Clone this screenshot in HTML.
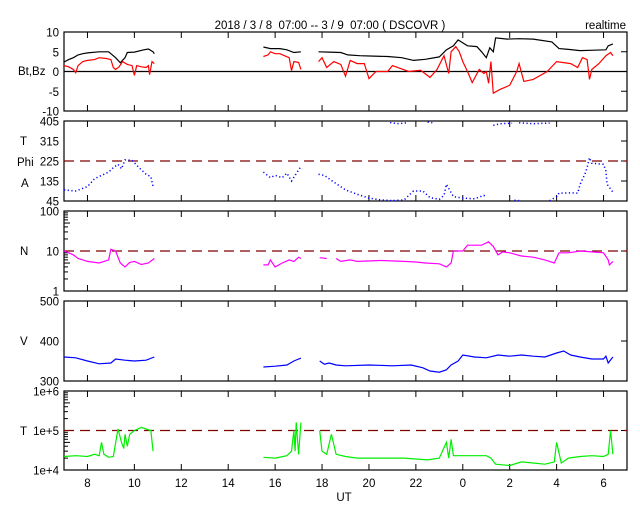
<!DOCTYPE html>
<html><head><meta charset="utf-8"><style>
body{margin:0;background:#fff}
svg{display:block;font-family:"Liberation Sans",sans-serif;font-size:11.5px}
</style></head><body>
<svg id="c" width="640" height="512" xmlns="http://www.w3.org/2000/svg">
<text x="330" y="29" text-anchor="middle" xml:space="preserve">2018 / 3 / 8  07:00 -- 3 / 9  07:00 ( DSCOVR )</text>
<text x="626" y="29" text-anchor="end">realtime</text>
<text x="344" y="501" text-anchor="middle">UT</text>
</svg>
<script>
const xTicks=[8,10,12,14,16,18,20,22,24,26,28,30];
const xTickLabels=["8","10","12","14","16","18","20","22","0","2","4","6"];
const btSegs=[
[[7.0,2.4],[7.2,3],[7.4,3.5],[7.6,4.2],[7.8,4.5],[8.0,4.7],[8.5,5],[8.9,5],[9.0,4.5],[9.2,3.5],[9.4,2.2],[9.6,3.5],[9.7,4.8],[10.0,4.9],[10.4,5.5],[10.6,5.7],[10.8,5.0],[10.85,4.5]],
[[15.5,6.2],[15.8,5.8],[16.2,5.8],[16.5,5.5],[16.8,4.8],[17.1,5]],
[[17.85,5.0],[18.3,4.9],[18.8,4.8],[19.1,4.2],[19.6,4.0],[20.2,3.9],[20.8,3.8],[21.4,3.5],[21.9,2.8],[22.4,3.1],[23.0,3.7],[23.3,5.5],[23.6,6.5],[23.8,8],[24.2,6.5],[24.6,6.3],[24.8,5],[25.0,3.5],[25.15,6],[25.3,5],[25.4,8.5],[25.9,8.2],[26.4,8.3],[27.0,8.2],[27.8,7.5],[28.1,5.8],[28.5,5.6],[29.0,5.3],[29.6,5.4],[30.1,5.5],[30.2,6.5],[30.4,7]]];
const bzSegs=[
[[7.0,1.5],[7.2,1.2],[7.4,0.5],[7.5,-0.3],[7.6,1.5],[7.8,2.5],[8.0,2.8],[8.3,3],[8.5,3.5],[8.8,3.3],[9.0,3.0],[9.1,1.0],[9.2,0.5],[9.35,1.2],[9.5,2.5],[9.7,1.8],[9.9,1.5],[10.0,-1.0],[10.1,1.5],[10.3,1.2],[10.5,1.0],[10.6,1.5],[10.65,-0.8],[10.75,2.5],[10.85,2]],
[[15.5,3.8],[15.7,4.2],[15.8,5],[16.0,4.5],[16.2,4.5],[16.4,4],[16.6,3.5],[16.7,0.2],[16.8,2.5],[17.0,2.3],[17.1,0.5]],
[[17.85,2.5],[18.0,3.5],[18.2,1],[18.5,2.5],[18.8,1.8],[19.0,-1.2],[19.2,2.8],[19.5,2],[19.8,2],[20.0,-1.8],[20.3,0],[20.8,0],[21.0,1.5],[21.7,0],[22.2,0.3],[22.6,-1.5],[22.9,0.5],[23.2,4],[23.4,-0.5],[23.5,5],[23.7,6.3],[23.85,5],[24.0,2.5],[24.2,0],[24.4,-2.8],[24.7,0.5],[24.9,-0.5],[25.0,0],[25.1,-3],[25.2,2.5],[25.3,-5.5],[25.6,-4.5],[26.0,-3.5],[26.3,0],[26.4,2],[26.6,-2.5],[27.0,-2],[27.6,0],[28.0,2.5],[28.6,2],[28.9,1],[29.1,3.5],[29.3,3],[29.4,-2],[29.5,0.5],[29.8,2],[30.1,4],[30.3,4.8],[30.4,4]]];
const phiSegs=[
[[7.0,95],[7.5,90],[8.0,110],[8.3,145],[8.6,160],[8.9,175],[9.1,195],[9.3,210],[9.45,190],[9.6,230],[9.9,228],[10.2,195],[10.5,165],[10.7,155],[10.8,110]],
[[15.5,175],[15.8,150],[16.0,160],[16.3,150],[16.5,170],[16.7,135],[17.0,185],[17.1,200]],
[[17.85,165],[18.1,160],[18.5,130],[19.0,95],[19.5,75],[20.0,58],[20.5,50],[21.0,47],[21.5,50],[21.9,90],[22.3,90],[22.6,60],[23.0,52],[23.2,70],[23.3,120],[23.6,65],[24.0,58],[24.5,55],[24.9,70],[25.0,60]],
[[20.9,398],[21.2,393],[21.6,397]],[[22.5,400],[22.7,397]],
[[25.3,385],[25.6,393],[26.1,395]],[[26.4,397],[27.0,393],[27.7,396]],
[[26.2,48],[26.4,47]],[[27.7,46],[28.0,65],[28.1,80],[28.6,82],[28.9,80],[29.0,120],[29.2,165],[29.3,195],[29.4,240],[29.5,215],[30.0,210],[30.1,180],[30.15,120],[30.4,85]]];
const nSegs=[
[[7.0,10],[7.2,9],[7.4,8],[7.6,6.5],[8.0,5.5],[8.5,5],[8.9,6],[9.0,11],[9.2,10],[9.4,5],[9.6,4],[9.8,5.2],[10.0,5.5],[10.3,4.6],[10.6,5],[10.85,6.5]],
[[15.5,4.5],[15.7,4.5],[15.8,6],[16.0,4],[16.3,5],[16.6,6],[16.8,5.5],[17.0,7],[17.1,6.5]],
[[17.9,6.8],[18.2,6.5]],
[[18.6,6.5],[18.8,5.5],[19.2,6],[19.5,5.5],[20.5,5.8],[21.5,5.5],[22.0,5.3],[22.4,5],[23.0,4.8],[23.3,4],[23.5,5],[23.6,10],[24.0,10],[24.2,14],[24.8,14],[25.1,17],[25.3,13],[25.5,8],[25.7,9.5],[26.0,9],[26.5,7.5],[27.0,7],[27.5,6],[27.9,5],[28.1,9],[28.5,9],[29.0,10],[29.5,9.5],[30.0,9],[30.2,6],[30.25,4.5],[30.4,5.5]]];
const vSegs=[
[[7.0,360],[7.5,358],[8.0,350],[8.5,343],[9.0,345],[9.2,355],[9.6,352],[10.0,350],[10.5,352],[10.85,360]],
[[15.5,335],[16.0,337],[16.5,340],[16.8,350],[17.0,355],[17.1,357]],
[[17.9,350],[18.1,342],[18.3,345],[18.6,340],[19.0,338],[20.0,340],[21.0,338],[21.8,340],[22.3,333],[22.6,325],[23.0,322],[23.3,328],[23.5,340],[23.8,350],[24.0,365],[24.5,360],[25.0,358],[25.5,365],[26.0,362],[26.5,365],[27.0,362],[27.5,360],[28.0,370],[28.3,375],[28.6,365],[29.0,360],[29.5,355],[30.0,355],[30.1,362],[30.2,345],[30.4,360]]];
const tSegs=[
[[7.0,2.2e4],[7.5,2.3e4],[8.0,2.2e4],[8.3,2.5e4],[8.5,2.3e4],[8.6,5e4],[8.7,2.5e4],[8.9,2.1e4],[9.1,2.2e4],[9.3,1.1e5],[9.45,5e4],[9.55,3.5e4],[9.6,8e4],[9.7,4e4],[9.8,8e4],[10.0,1.0e5],[10.3,1.2e5],[10.7,1.0e5],[10.8,3e4]],
[[15.5,2.1e4],[16.0,2.0e4],[16.5,2.3e4],[16.7,3e4],[16.8,1e5],[16.85,3e4],[16.9,1.6e5],[17.0,2.5e4],[17.1,1.6e5]],
[[17.9,1e5],[18.0,3e4],[18.2,2.5e4],[18.4,8e4],[18.6,2.5e4],[19.0,2.2e4],[19.5,2e4],[20.5,2e4],[21.5,2e4],[22.5,1.8e4],[23.0,2e4],[23.3,5e4],[23.4,2e4],[23.5,6e4],[23.6,2.3e4],[24.2,2.3e4],[25.0,2.3e4],[25.2,2e4],[25.4,1.4e4],[26.0,1.3e4],[26.5,1.6e4],[27.0,1.5e4],[27.5,1.4e4],[27.9,1.6e4],[28.0,5e4],[28.2,1.5e4],[28.5,2e4],[29.0,2.2e4],[29.5,2.3e4],[30.0,2.2e4],[30.2,2.5e4],[30.3,1e5],[30.4,2.5e4]]];

const NS="http://www.w3.org/2000/svg", svg=document.getElementById('c');
const X0=64,X1=627;
const xs=h=>X0+(h-7)*(X1-X0)/24;
function mk(t,a,p){const e=document.createElementNS(NS,t);for(const k in a)e.setAttribute(k,a[k]);(p||svg).appendChild(e);return e;}
const panels=[
 {name:'bt-bz',top:32,bot:111,min:-10,max:10,log:false,ticks:[10,5,0,-5,-10],labels:["10","5","0","-5","-10"]},
 {name:'phi',top:121,bot:201,min:45,max:405,log:false,ticks:[405,315,225,135,45],labels:["405","315","225","135","45"]},
 {name:'density',top:211,bot:291,min:1,max:100,log:true,ticks:[100,10,1],labels:["100","10","1"]},
 {name:'speed',top:301,bot:381,min:300,max:500,log:false,ticks:[500,400,300],labels:["500","400","300"]},
 {name:'temperature',top:391,bot:470,min:1e4,max:1e6,log:true,ticks:[1e6,1e5,1e4],labels:["1e+6","1e+5","1e+4"]}];
panels.forEach(p=>{p.y=v=>{const f=p.log?(Math.log10(v)-Math.log10(p.min))/(Math.log10(p.max)-Math.log10(p.min)):(v-p.min)/(p.max-p.min);return p.bot-f*(p.bot-p.top);};});
panels.forEach((p,i)=>{
 const g=mk('g',{});
 
 
 const r=mk('rect',{x:X0,y:p.top,width:X1-X0,height:p.bot-p.top,fill:'none',stroke:'#000','stroke-width':1.2},g);
 
 
 xTicks.forEach(h=>{mk('line',{x1:xs(h),x2:xs(h),y1:p.bot,y2:p.bot-6,stroke:'#000'},g);mk('line',{x1:xs(h),x2:xs(h),y1:p.top,y2:p.top+6,stroke:'#000'},g);});
 p.ticks.forEach((t,j)=>{const y=p.y(t);
  const tl=mk('text',{x:59,y:y+4.5,'text-anchor':'end'},g);tl.textContent=p.labels[j];
  
  
  mk('line',{x1:X1,x2:X1-6,y1:y,y2:y,stroke:'#000'},g);});
 if(p.log){const d=Math.log10(p.min),D=Math.log10(p.max);
  for(let e=d;e<D;e++)for(let m=2;m<=9;m++){const y=p.y(m*Math.pow(10,e));mk('line',{x1:X0,x2:X0+(m==5?6:4),y1:y,y2:y,stroke:'#000'},g);}}
});
[['bt-bz-label','Bt,Bz',18,75],['phi-t-label','T',20,145],['phi-label','Phi',17,166],['phi-a-label','A',21,187],['density-label','N',20,255],['speed-label','V',20,345],['temperature-label','T',20,435]].forEach(a=>{
 const t=mk('text',{x:a[2],y:a[3]});t.textContent=a[1];
 
 });
xTicks.forEach((h,i)=>{const t=mk('text',{x:xs(h),y:487,'text-anchor':'middle'});t.textContent=xTickLabels[i];
 
 });
const z=mk('line',{x1:X0,x2:X1,y1:panels[0].y(0),y2:panels[0].y(0),stroke:'#000','stroke-width':1.2});


[[1,225],[2,10],[4,1e5]].forEach(a=>{const p=panels[a[0]],y=p.y(a[1]);
 const l=mk('line',{x1:X0,x2:X1,y1:y,y2:y,stroke:'#800000','stroke-dasharray':'10 6','stroke-width':1.2});
 
 });
function series(segs,p,color,name,dash){
 segs.forEach(s=>{const pts=s.map(d=>xs(d[0]).toFixed(1)+','+p.y(d[1]).toFixed(1)).join(' ');
  const a={points:pts,fill:'none',stroke:color,'stroke-width':dash?1.5:1.2};if(dash)a['stroke-dasharray']='1.2 2.5';
  const l=mk('polyline',a);
  
  });
}
series(btSegs,panels[0],'#000','bt-series');
series(bzSegs,panels[0],'#ff0000','bz-series');
series(phiSegs,panels[1],'#0000ff','phi-series',true);
series(nSegs,panels[2],'#ff00ff','density-series');
series(vSegs,panels[3],'#0000ff','speed-series');
series(tSegs,panels[4],'#00ee00','temperature-series');
</script>
</body></html>
